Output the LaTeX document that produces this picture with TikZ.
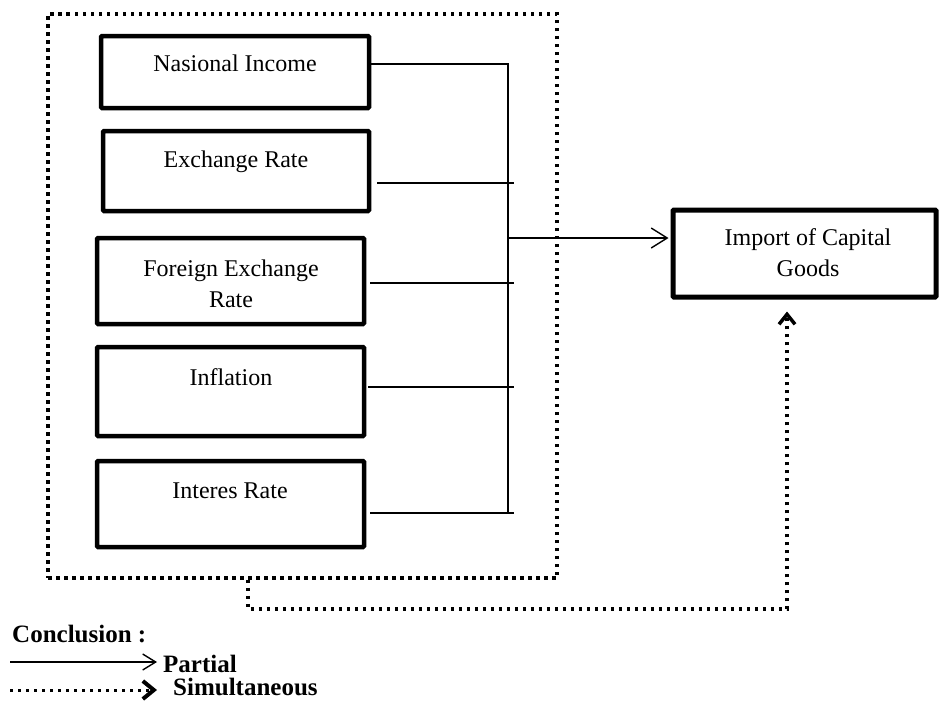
\documentclass[tikz,border=0pt]{standalone}
\usepackage{fontspec}
\setmainfont{Liberation Serif}
\usetikzlibrary{arrows.meta}
\begin{document}
\begin{tikzpicture}[x=1pt,y=-1pt,
  varbox/.style={draw, line width=4.5pt, rounded corners=1pt, inner sep=0pt},
  impbox/.style={draw, line width=5pt, rounded corners=1pt, inner sep=0pt},
  dotline/.style={line width=3.5pt, dash pattern=on 3.5pt off 4.5pt},
  txt/.style={inner sep=0pt, anchor=base, font=\fontsize{24}{31}\selectfont},
  btxt/.style={inner sep=0pt, anchor=base west, font=\fontsize{25}{31}\selectfont\bfseries},
  thin/.style={line width=1.4pt},
  partial/.style={thin, -{Straight Barb[length=16pt,width=20pt,line width=1.4pt]}},
  simul/.style={dotline, -{Straight Barb[length=10pt,width=16pt,line width=3.5pt]}}
]
\useasboundingbox (0,0) rectangle (939,710);

% outer dotted box
\node[draw, dotline, inner sep=0pt, minimum width=509pt, minimum height=564pt] (outer) at (302.5,296) {};

% variable boxes
\node[varbox, minimum width=268pt, minimum height=72pt] (b1) at (235,72) {};
\node[varbox, minimum width=266pt, minimum height=80pt] (b2) at (236,171) {};
\node[varbox, minimum width=267pt, minimum height=86pt] (b3) at (230.5,281) {};
\node[varbox, minimum width=267pt, minimum height=89pt] (b4) at (230.5,391.5) {};
\node[varbox, minimum width=267pt, minimum height=86pt] (b5) at (230.5,504) {};

\node[txt] (t1) at (235,71) {Nasional Income};
\node[txt] (t2) at (236,167) {Exchange Rate};
\node[txt] (t3a) at (231,276) {Foreign Exchange};
\node[txt] (t3b) at (231,307) {Rate};
\node[txt] (t4) at (231,385) {Inflation};
\node[txt] (t5) at (230,498) {Interes Rate};

% import box
\node[impbox, minimum width=263pt, minimum height=87pt] (imp) at (804.5,253.5) {};
\node[txt] (tia) at (808,245) {Import of Capital};
\node[txt] (tib) at (808,276) {Goods};

% connectors
\coordinate (vtop) at (508,64);
\coordinate (vbot) at (508,513);
\coordinate (jm) at (508,238);
\draw[thin] (b1.east |- vtop) -- (vtop) -- (vbot);
\draw[thin] ([xshift=6pt]b2.east |- 0,183) -- (514,183);
\draw[thin] ([xshift=4pt]b3.east |- 0,283) -- (514,283);
\draw[thin] ([xshift=2pt]b4.east |- 0,387) -- (514,387);
\draw[thin] ([xshift=4pt]b5.east |- 0,513) -- (514,513);
\draw[partial, shorten >=2pt] (jm) -- (imp.west |- jm);

% simultaneous connector
\coordinate (s0) at (outer.south -| 248,0);
\coordinate (s1) at (248,609);
\coordinate (s2) at (787,609);
\draw[simul, line join=miter] (s0) -- (s1) -- (s2) -- ([yshift=-12pt]imp.south -| s2);

% legend
\node[btxt] (lc) at (12,642) {Conclusion :};
\coordinate (lp0) at (10,662);
\node[btxt] (lp) at (163,672) {Partial};
\draw[thin, -{Straight Barb[length=13pt,width=16pt,line width=1.4pt]}] (lp0) -- (157,662);
\coordinate (ls0) at (10,690);
\node[btxt] (ls) at (173,695) {Simultaneous};
\draw[line width=3pt, dash pattern=on 3pt off 5pt, -{Straight Barb[length=11pt,width=18pt,line width=4pt]}] (ls0) -- (157,690);
\end{tikzpicture}
\end{document}
